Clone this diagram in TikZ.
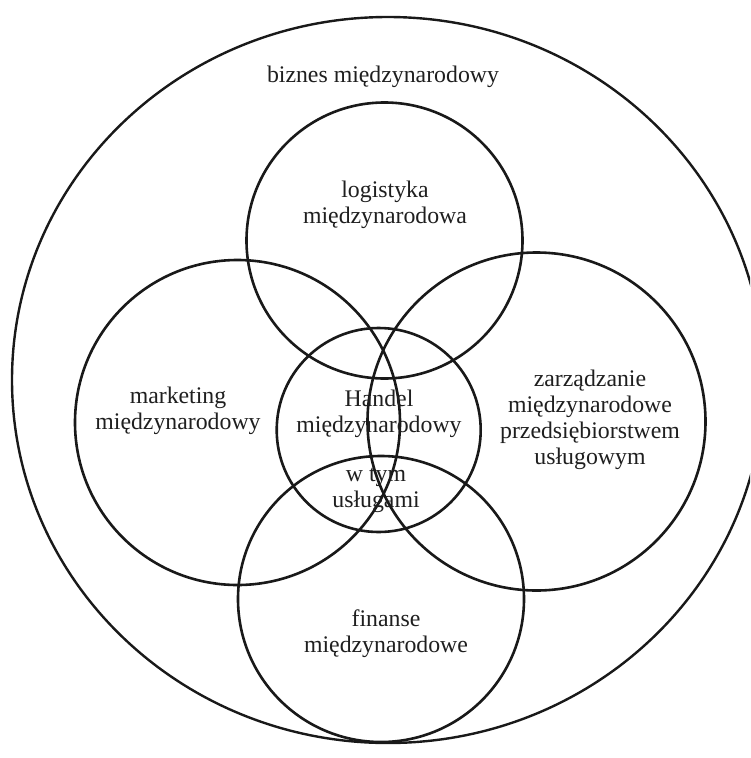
\documentclass[tikz,border=0pt]{standalone}
\usepackage{fontspec}
\setmainfont{Liberation Serif}
\begin{document}
\begin{tikzpicture}[x=1pt,y=-1pt,
  ring/.style={line width=2.6pt, draw=black!90},
  lbl/.style={font=\fontsize{23.8pt}{26pt}\selectfont, align=center, inner sep=0pt, text=black!88}]
\useasboundingbox (0,0) rectangle (750,758);
\clip (0,0) rectangle (750,758);
\fill[white] (0,0) rectangle (750,758);
\coordinate (cBig) at (388,380);
\coordinate (cLog) at (384.5,240.5);
\coordinate (cMkt) at (237.5,422.5);
\coordinate (cZar) at (536.5,421.5);
\coordinate (cFin) at (381,599);
\coordinate (cHan) at (378.7,430);
\draw[ring, line width=2.4pt] (cBig) ellipse [x radius=376pt, y radius=363pt];
\draw[ring] (cLog) circle [radius=138pt];
\draw[ring] (cMkt) circle [radius=162.5pt];
\draw[ring] (cZar) circle [radius=169pt];
\draw[ring] (cFin) circle [radius=143pt];
\draw[ring] (cHan) circle [radius=102pt];
\node[lbl] (tBiz) at (383,77) {biznes międzynarodowy};
\node[lbl] (tLog) at (385,205) {logistyka\\międzynarodowa};
\node[lbl] (tMkt) at (178,411) {marketing\\międzynarodowy};
\node[lbl] (tZar) at (590,420) {zarządzanie\\międzynarodowe\\przedsiębiorstwem\\usługowym};
\node[lbl] (tHan) at (379,414) {Handel\\międzynarodowy};
\node[lbl] (tTym) at (376,490.5) {w tym\\usługami};
\node[lbl] (tFin) at (386,634) {finanse\\międzynarodowe};
\end{tikzpicture}
\end{document}
